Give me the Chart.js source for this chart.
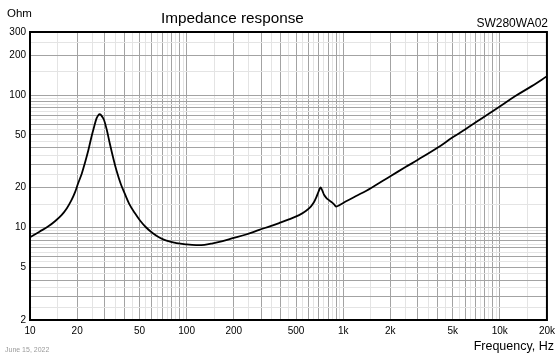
<!DOCTYPE html>
<html>
<head>
<meta charset="utf-8">
<script src="https://cdn.jsdelivr.net/npm/chart.js@4/dist/chart.umd.min.js"></script>
<style>
  html, body { margin: 0; padding: 0; background: #fff; }
  #wrap { position: relative; width: 560px; height: 356px; overflow: hidden; font-family: "Liberation Sans", Arial, sans-serif; }
  #c { position: absolute; left: 0; top: 0; }
  .t { position: absolute; line-height: 1; white-space: nowrap; color: #000; }
</style>
</head>
<body>
<div id="wrap">
  <canvas id="c" width="560" height="356"></canvas>
  <div class="t" style="left:7px; top:7.5px; font-size:11.5px;">Ohm</div>
  <div class="t" style="left:161px; top:9.5px; font-size:15.3px;">Impedance response</div>
  <div class="t" style="right:12px; top:16.7px; font-size:12px;">SW280WA02</div>
  <div class="t" style="right:6px; top:340px; font-size:12.5px;">Frequency, Hz</div>
  <div class="t" style="left:5px; top:345.5px; font-size:7px; color:#9a9a9a;">June 15, 2022</div>
</div>
<script>
// ---- data ----
const frequencies = [10, 11.5, 13.1, 14.5, 15.9, 17.2, 18.4, 19.4, 20.3, 21.4, 22.4, 23.6, 24.7, 25.7, 26.6, 27.3, 27.9, 28.6, 29.7, 31, 32.3, 34, 35.6, 38, 40.3, 43, 46.6, 50.4, 55.2, 61.2, 67, 74.4, 86.1, 100, 115, 130, 147, 170, 197, 240, 291, 340, 390, 450, 523, 580, 621, 650, 672, 698, 718, 736, 756, 782, 811, 851, 880, 903, 950, 1036, 1200, 1500, 2000, 2500, 3000, 4000, 5000, 6000, 8000, 10000, 12500, 16000, 20000];
const impedance   = [8.45, 9.3, 10.2, 11.2, 12.4, 14.0, 16.1, 18.5, 21.6, 25.5, 30.6, 38.5, 48.5, 58, 66.8, 70.5, 71.7, 70, 64.9, 54, 43.3, 33.5, 27.2, 21.3, 18.0, 15.1, 12.9, 11.3, 10.0, 9.0, 8.4, 7.95, 7.62, 7.45, 7.36, 7.4, 7.6, 7.9, 8.3, 8.85, 9.6, 10.2, 10.8, 11.5, 12.4, 13.4, 14.4, 15.5, 16.8, 18.8, 20.1, 19.0, 17.6, 16.7, 16.1, 15.4, 14.8, 14.4, 14.8, 15.7, 17.2, 19.8, 24.4, 28.6, 32.5, 40, 48, 55, 69, 82, 98, 117, 139];

const xTickValues = [10, 20, 50, 100, 200, 500, 1000, 2000, 5000, 10000, 20000];
const xTickLabels = ['10', '20', '50', '100', '200', '500', '1k', '2k', '5k', '10k', '20k'];
const yTickValues = [2, 5, 10, 20, 50, 100, 200, 300];
const yTickLabels = ['2', '5', '10', '20', '50', '100', '200', '300'];

const xMin = 10, xMax = 20000, yMin = 2, yMax = 300;

// grid positions: integer multiples (major) and half-steps (minor) within each decade
function gridValues(min, max) {
  const major = [], minor = [];
  for (let d = Math.pow(10, Math.floor(Math.log10(min))); d <= max; d *= 10) {
    for (let m = 1; m <= 9; m++) {
      const v = m * d, h = (m + 0.5) * d;
      if (v >= min - 1e-9 && v <= max + 1e-9) major.push(+v.toPrecision(6));
      if (h > min && h < max) minor.push(+h.toPrecision(6));
    }
  }
  return { major, minor };
}
const xGrid = gridValues(xMin, xMax);
const yGrid = gridValues(yMin, yMax);

const MAJOR = '#a3a3a3', MINOR = '#e4e4e4';
function isMajor(grid, v) { return grid.major.some(m => Math.abs(m - v) / m < 1e-6); }
function labelFor(values, labels, v) {
  const i = values.findIndex(t => Math.abs(t - v) / t < 1e-6);
  return i >= 0 ? labels[i] : '';
}

const frame = {
  id: 'frame',
  afterDatasetsDraw(chart) {
    const a = chart.chartArea, ctx = chart.ctx;
    ctx.save();
    ctx.strokeStyle = '#000';
    ctx.lineWidth = 2;
    ctx.strokeRect(a.left, a.top, a.right - a.left, a.bottom - a.top);
    ctx.restore();
  }
};

const fontSpec = { family: '"Liberation Sans", Arial, sans-serif', size: 10 };

new Chart(document.getElementById('c'), {
  type: 'line',
  data: {
    datasets: [{
      data: frequencies.map((f, i) => ({ x: f, y: impedance[i] })),
      borderColor: '#000',
      borderWidth: 1.8,
      pointRadius: 0,
      tension: 0.35,
      fill: false
    }]
  },
  options: {
    responsive: false,
    animation: false,
    devicePixelRatio: 1,
    layout: { padding: { left: 0, top: 32, right: 11, bottom: 0 } },
    plugins: { legend: { display: false }, title: { display: false }, tooltip: { enabled: false } },
    scales: {
      x: {
        type: 'logarithmic',
        min: xMin, max: xMax,
        afterBuildTicks: s => { s.ticks = xGrid.major.concat(xGrid.minor).sort((a, b) => a - b).map(v => ({ value: v })); },
        afterFit: s => { s.height = 36; },
        border: { display: false },
        grid: {
          drawTicks: false,
          lineWidth: 1,
          color: c => isMajor(xGrid, c.tick.value) ? MAJOR : MINOR
        },
        ticks: {
          autoSkip: false, maxRotation: 0, minRotation: 0, padding: 5,
          color: '#000', font: fontSpec,
          callback: v => labelFor(xTickValues, xTickLabels, v)
        }
      },
      y: {
        type: 'logarithmic',
        min: yMin, max: yMax,
        afterBuildTicks: s => { s.ticks = yGrid.major.concat(yGrid.minor).sort((a, b) => a - b).map(v => ({ value: v })); },
        afterFit: s => { s.width = 30; },
        border: { display: false },
        grid: {
          drawTicks: false,
          lineWidth: 1,
          color: c => isMajor(yGrid, c.tick.value) ? MAJOR : MINOR
        },
        ticks: {
          autoSkip: false, padding: 4,
          color: '#000', font: fontSpec,
          callback: v => labelFor(yTickValues, yTickLabels, v)
        }
      }
    }
  },
  plugins: [frame]
});
</script>
</body>
</html>
